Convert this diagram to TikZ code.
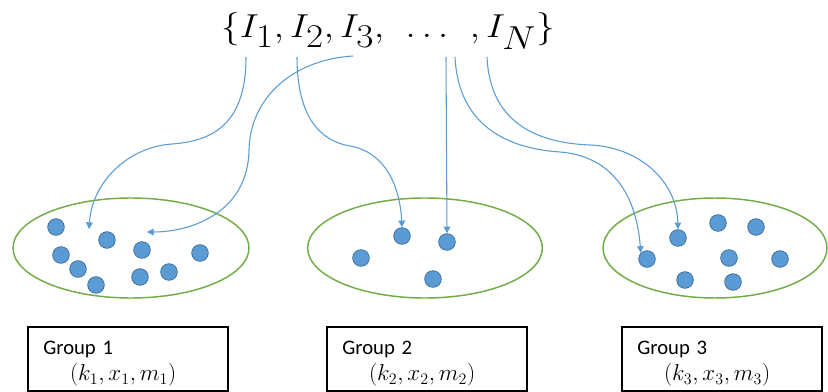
\documentclass[tikz,border=0pt]{standalone}
\usepackage{fontspec}
\setsansfont{Carlito}
\usepackage{graphicx}
\usepackage{tikz}
\usetikzlibrary{shapes.geometric,arrows.meta,positioning}
\definecolor{dotblue}{RGB}{91,155,213}
\definecolor{dotedge}{RGB}{65,113,156}
\definecolor{grpgreen}{RGB}{112,173,71}

\begin{document}
\begin{tikzpicture}[
		x=0.75pt, y=-0.75pt,
		every node/.style={font=\footnotesize},
		title/.style={font=\fontsize{34}{40}\selectfont, inner sep=0pt},
		elem/.style={circle, draw=dotedge, fill=dotblue, line width=0.6pt, minimum size=12.5pt, inner sep=0pt},
		group/.style={ellipse, draw=grpgreen, line width=1.1pt, inner sep=0pt},
		label/.style={draw, line width=0.8pt, minimum width=150pt, minimum height=47pt, text width=145pt, inner xsep=0pt, align=left, font=\sffamily\fontsize{15.5}{18}\selectfont},
		barrow/.style={-{Triangle[length=5pt,width=5pt]}, draw=dotblue, line width=0.8pt}
	]
		\useasboundingbox (0,0) rectangle (828,392);

		% the set
		\node[title]
			(set)
			at (388,31)
			{\scalebox{1.12}[1]{$\{I_1,I_2,I_3,\ \dots\ ,I_N\}$}};
		\coordinate (i1) at (246,57);
		\coordinate (i2) at (297,57);
		\coordinate (i3) at (353,56);
		\coordinate (d1) at (446,57);
		\coordinate (d2) at (455,57);
		\coordinate (iN) at (487,57);

		% groups
		\node[group, minimum width=177pt, minimum height=75pt] (g1) at (131,248) {};
		\node[group, minimum width=176pt, minimum height=75pt] (g2) at (425,248) {};
		\node[group, minimum width=168pt, minimum height=75pt] (g3) at (715,248) {};

		\node[elem] (a1) at (56,227) {};
		\node[elem] (a2) at (107,240) {};
		\node[elem] (a3) at (61,255) {};
		\node[elem] (a4) at (78,269) {};
		\node[elem] (a5) at (96,285) {};
		\node[elem] (a6) at (142,250) {};
		\node[elem] (a7) at (140,277) {};
		\node[elem] (a8) at (169,272) {};
		\node[elem] (a9) at (200,253) {};

		\node[elem] (b1) at (402,236) {};
		\node[elem] (b2) at (447,242) {};
		\node[elem] (b3) at (361,258) {};
		\node[elem] (b4) at (433,279) {};

		\node[elem] (c1) at (718,223) {};
		\node[elem] (c2) at (756,227) {};
		\node[elem] (c3) at (678,238) {};
		\node[elem] (c4) at (647,259) {};
		\node[elem] (c5) at (729,258) {};
		\node[elem] (c6) at (780,259) {};
		\node[elem] (c7) at (685,280) {};
		\node[elem] (c8) at (733,282) {};

		\coordinate (t1) at (89,229);
		\coordinate (t2) at (147,232);

		% mapping
		\draw[barrow] (i1) .. controls (246,122) and (215,141) .. (172,144)
			.. controls (128,147) and (92,182) .. (t1);
		\draw[barrow] (i3) .. controls (290,60) and (250,100) .. (249,150)
			.. controls (248,212) and (192,232) .. (t2);
		\draw[barrow] (i2) .. controls (297,110) and (315,140) .. (350,146)
			.. controls (385,152) and (400,186) .. (b1.north);
		\draw[barrow] (d1) -- (b2.north);
		\draw[barrow] (d2) .. controls (458,120) and (500,148) .. (560,152)
			.. controls (610,156) and (636,192) .. (c4.north west);
		\draw[barrow] (iN) .. controls (490,125) and (540,143) .. (590,145)
			.. controls (640,147) and (677,182) .. (c3.north);

		% parameters
		\node[label] (p1) at (128,359)
			{\rule{0pt}{17pt}\hspace*{9pt}Group 1 \\[2pt] \hspace*{29pt}\fontsize{18}{20}\selectfont$(k_1,x_1,m_1)$};
		\node[label] (p2) at (427,359)
			{\rule{0pt}{17pt}\hspace*{9pt}Group 2 \\[2pt] \hspace*{29pt}\fontsize{18}{20}\selectfont$(k_2,x_2,m_2)$};
		\node[label] (p3) at (722,359)
			{\rule{0pt}{17pt}\hspace*{9pt}Group 3 \\[2pt] \hspace*{29pt}\fontsize{18}{20}\selectfont$(k_3,x_3,m_3)$};
	\end{tikzpicture}
\end{document}
